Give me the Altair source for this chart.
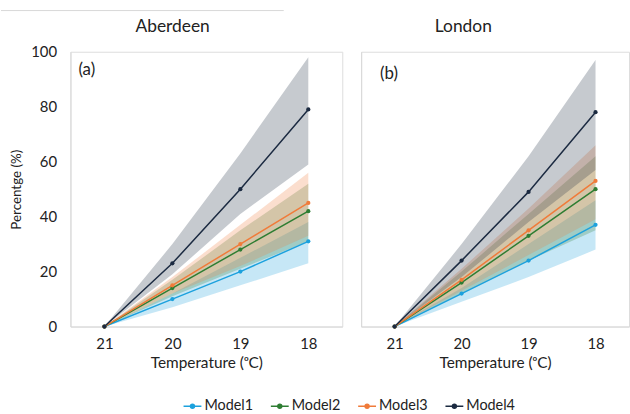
import altair as alt
import pandas as pd

temps = ["21", "20", "19", "18"]
models = ["Model1", "Model2", "Model3", "Model4"]
colors = ["#1ca1dd", "#2e7d32", "#f07b3a", "#1b2a41"]

# Aberdeen
ab_m1 = [0, 10, 20, 31]
ab_m2 = [0, 14, 28, 42]
ab_m3 = [0, 15, 30, 45]
ab_m4 = [0, 23, 50, 79]
ab_m1_lo = [0, 7, 15, 23]
ab_m2_lo = [0, 11, 21, 31]
ab_m3_lo = [0, 12, 22, 33]
ab_m4_lo = [0, 19, 41, 59]
ab_m1_hi = [0, 12, 25, 38]
ab_m2_hi = [0, 17, 35, 52]
ab_m3_hi = [0, 18, 37, 56]
ab_m4_hi = [0, 30, 63, 98]

# London
lo_m1 = [0, 12, 24, 37]
lo_m2 = [0, 16, 33, 50]
lo_m3 = [0, 17, 35, 53]
lo_m4 = [0, 24, 49, 78]
lo_m1_lo = [0, 9, 18, 28]
lo_m2_lo = [0, 12, 24, 35]
lo_m3_lo = [0, 13, 26, 39]
lo_m4_lo = [0, 18, 38, 57]
lo_m1_hi = [0, 14, 30, 46]
lo_m2_hi = [0, 20, 41, 62]
lo_m3_hi = [0, 21, 43, 66]
lo_m4_hi = [0, 30, 62, 97]

FONT = "Lato"
TXT = "#222222"


def build(means, lows, highs):
    rows = []
    for mi, m in enumerate(models):
        for ti, t in enumerate(temps):
            rows.append({"model": m, "temp": t, "value": means[mi][ti],
                         "low": lows[mi][ti], "high": highs[mi][ti]})
    return pd.DataFrame(rows)


ab_df = build([ab_m1, ab_m2, ab_m3, ab_m4], [ab_m1_lo, ab_m2_lo, ab_m3_lo, ab_m4_lo],
              [ab_m1_hi, ab_m2_hi, ab_m3_hi, ab_m4_hi])
lo_df = build([lo_m1, lo_m2, lo_m3, lo_m4], [lo_m1_lo, lo_m2_lo, lo_m3_lo, lo_m4_lo],
              [lo_m1_hi, lo_m2_hi, lo_m3_hi, lo_m4_hi])

color_scale = alt.Scale(domain=models, range=colors)
legend = alt.Legend(
    title=None, orient="none", direction="horizontal", legendX=113, legendY=347,
    symbolType="M-1,0H1M-0.22,0a0.22,0.22 0 1,0 0.44,0a0.22,0.22 0 1,0 -0.44,0",
    symbolSize=324, symbolStrokeWidth=1.5, symbolOpacity=1, labelFontSize=14.5,
    labelFont=FONT, labelColor=TXT, columnPadding=14, labelOffset=2,
)


def panel(df, label, title, width, show_y, label_x, label_y, extra=None):
    x = alt.X("temp:O", sort=temps, scale=alt.Scale(paddingOuter=0.5),
              axis=alt.Axis(title="Temperature (ᵒC)", labelAngle=0, ticks=False,
                            domainColor="#d9d9d9", labelFontSize=15, labelPadding=10,
                            labelColor=TXT, titleFontSize=15.5, titleFontWeight="normal",
                            titleColor=TXT, titlePadding=4, labelFont=FONT, titleFont=FONT))
    if show_y:
        yaxis = alt.Axis(values=[0, 20, 40, 60, 80, 100], grid=False, ticks=False,
                         domainColor="#d9d9d9", labelFontSize=15, labelPadding=14,
                         labelColor=TXT, title="Percentge (%)", titleFontSize=13.5,
                         titleFontWeight="normal", titleColor=TXT, titlePadding=7,
                         labelFont=FONT, titleFont=FONT)
    else:
        yaxis = alt.Axis(values=[0, 20, 40, 60, 80, 100], grid=False, ticks=False,
                         labels=False, domainColor="#d9d9d9", title=None)
    y = alt.Y("value:Q", scale=alt.Scale(domain=[0, 100]), axis=yaxis)
    base = alt.Chart(df)
    line = base.mark_line(strokeWidth=1.5, point=alt.OverlayMarkDef(size=18, filled=True)).encode(
        x=x, y=y, color=alt.Color("model:N", scale=color_scale, legend=legend),
    )
    band = base.mark_area(opacity=0.25).encode(
        x=x, y=alt.Y("low:Q", scale=alt.Scale(domain=[0, 100]), axis=yaxis),
        y2="high:Q",
        color=alt.Color("model:N", scale=color_scale, legend=legend),
    )
    one = pd.DataFrame({"k": [0]})
    txt = alt.Chart(one).mark_text(align="left", baseline="middle", fontSize=17,
                                   font=FONT, color=TXT).encode(
        x=alt.value(label_x), y=alt.value(label_y), text=alt.value(label))
    ttl = alt.Chart(one).mark_text(align="center", baseline="middle", fontSize=17.5,
                                   font=FONT, color=TXT).encode(
        x=alt.value(103), y=alt.value(-24.5), text=alt.value(title))
    layers = [band, line, txt, ttl]
    if extra is not None:
        layers.append(extra)
    return alt.layer(*layers).properties(width=width, height=277)


top_rule = alt.Chart(pd.DataFrame({"k": [0]})).mark_rule(color="#d9d9d9", strokeWidth=1).encode(
    x=alt.value(-70), x2=alt.value(215), y=alt.value(-41.5))

left = panel(ab_df, "(a)", "Aberdeen", 274, True, 8, 18, top_rule)
right = panel(lo_df, "(b)", "London", 270, False, 19, 22)

chart = alt.hconcat(left, right, spacing=17).properties(
    padding={"left": 0, "top": 7.5, "right": 0, "bottom": 0}
).configure_view(stroke=None).configure(font=FONT)

chart.save("out.html", embed_options={"renderer": "svg", "actions": False})
